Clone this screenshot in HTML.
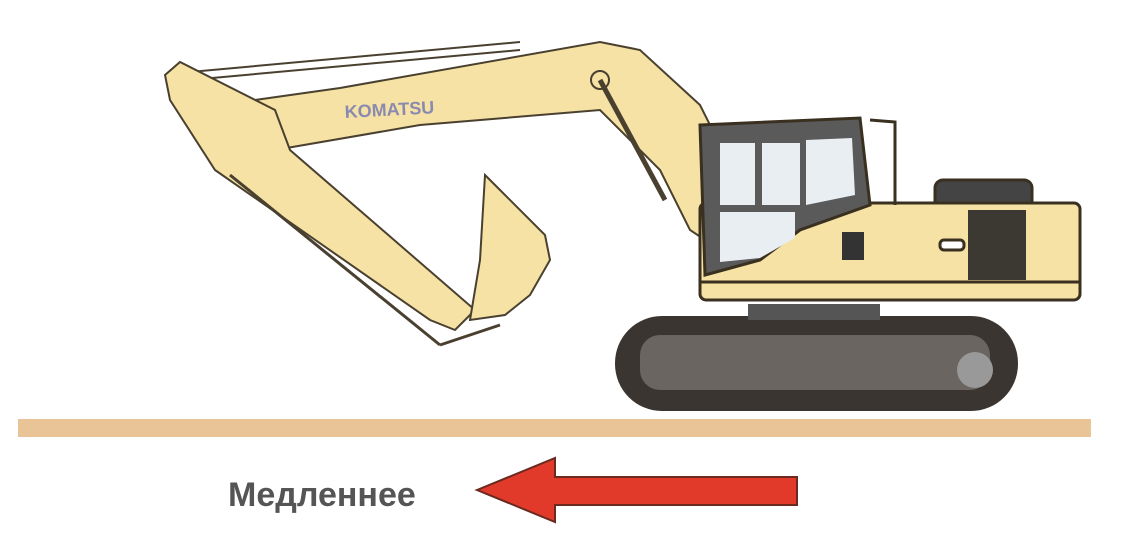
<!DOCTYPE html>
<html><head><meta charset="utf-8"><style>
html,body{margin:0;padding:0;background:#fff;width:1123px;height:536px;overflow:hidden}
svg{display:block}
</style></head><body>
<svg width="1123" height="536" viewBox="0 0 1123 536">
<rect x="18" y="419" width="1073" height="18" fill="#e8c496"/>
<g stroke="#4a4030" stroke-width="2" fill="#f5e2a4">
<path d="M255 100 L340 88 L600 42 L640 50 L700 105 L735 175 L705 240 L690 230 L660 170 L600 110 L420 125 L275 150 Z"/>
<line x1="190" y1="72" x2="520" y2="42"/>
<line x1="190" y1="80" x2="520" y2="50"/>
<circle cx="600" cy="80" r="9" fill="#f5e2a4"/>
<circle cx="255" cy="120" r="9" fill="#f5e2a4"/>
<line x1="600" y1="80" x2="665" y2="200" stroke-width="5"/>
</g>
<text x="345" y="118" font-family="Liberation Sans, sans-serif" font-weight="bold" font-size="18" fill="#8a8ab0" transform="rotate(-3 345 118)">KOMATSU</text>
<g stroke="#4a4030" stroke-width="2" fill="#f5e2a4">
<path d="M165 75 L180 62 L275 110 L290 150 L475 310 L455 330 L430 320 L215 170 L170 100 Z"/>
<line x1="230" y1="175" x2="440" y2="345" stroke-width="3"/>
<line x1="440" y1="345" x2="500" y2="325" stroke-width="3"/>
</g>
<g stroke="#4a4030" stroke-width="2" fill="#f5e2a4">
<path d="M485 175 L500 190 L545 235 L550 260 L530 295 L505 315 L470 320 L480 260 Z"/>
</g>
<g>
<rect x="615" y="316" width="403" height="95" rx="47" fill="#3a3530"/>
<rect x="640" y="335" width="350" height="55" rx="20" fill="#6a6560"/>
<circle cx="975" cy="370" r="18" fill="#999"/>
<rect x="748" y="304" width="132" height="16" fill="#555"/>
</g>
<g stroke="#3a3020" stroke-width="3" fill="#f5e2a4">
<rect x="935" y="180" width="97" height="30" rx="8" fill="#444"/>
<rect x="700" y="203" width="380" height="97" rx="6"/>
<line x1="700" y1="282" x2="1080" y2="282"/>
<rect x="968" y="210" width="58" height="70" fill="#3c3832" stroke="none"/>
<rect x="940" y="240" width="24" height="10" rx="4" fill="#fff"/>
<path d="M700 125 L860 118 L870 205 L800 230 L760 260 L705 275 Z" fill="#5a5a5a"/>
<path d="M720 143 L755 143 L755 205 L720 205 Z" fill="#e8eef2" stroke="none"/>
<path d="M762 143 L800 143 L800 205 L762 205 Z" fill="#e8eef2" stroke="none"/>
<path d="M806 140 L852 138 L855 195 L806 205 Z" fill="#e8eef2" stroke="none"/>
<path d="M720 212 L795 212 L795 238 L760 258 L720 262 Z" fill="#e8eef2" stroke="none"/>
<rect x="842" y="232" width="22" height="28" fill="#333" stroke="none"/>
<path d="M870 120 L895 122 L895 205" fill="none"/>
</g>
<text x="228" y="506" font-family="Liberation Sans, sans-serif" font-weight="bold" font-size="34" fill="#555">Медленнее</text>
<path d="M477 490 L555 458 L555 477 L797 477 L797 505 L555 505 L555 522 Z" fill="#e23a2a" stroke="#6a2a20" stroke-width="2"/>
</svg>
</body></html>
